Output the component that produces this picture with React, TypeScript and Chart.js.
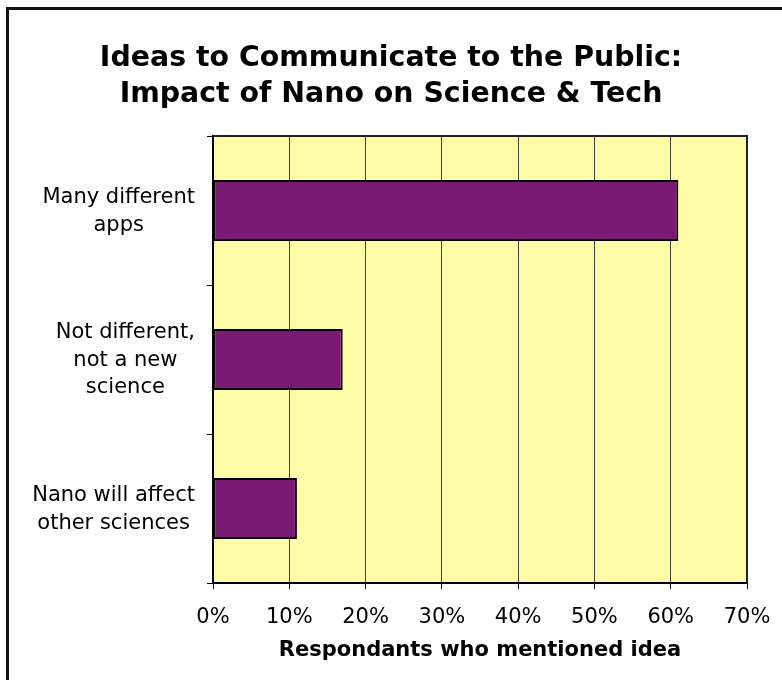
import React, { useEffect, useRef } from "react";
import { Chart, registerables } from "chart.js";

Chart.register(...registerables);

const titleLines = ["Ideas to Communicate to the Public:", "Impact of Nano on Science & Tech"];
const categories = [
  ["Many different", "apps"],
  ["Not different,", "not a new", "science"],
  ["Nano will affect", "other sciences"],
];
const values = [61, 17, 11];
const xTicks = [0, 10, 20, 30, 40, 50, 60, 70];
const xAxisTitle = "Respondants who mentioned idea";

const FONT = '"DejaVu Sans", Verdana, sans-serif';

const plotBgPlugin = {
  id: "plotBg",
  beforeDraw(chart: any) {
    const { ctx, chartArea } = chart;
    ctx.save();
    ctx.fillStyle = "#FFFCA8";
    ctx.fillRect(chartArea.left, chartArea.top, chartArea.right - chartArea.left, chartArea.bottom - chartArea.top);
    ctx.restore();
  },
  afterDraw(chart: any) {
    const { ctx, chartArea } = chart;
    ctx.save();
    ctx.strokeStyle = "#222";
    ctx.lineWidth = 2;
    ctx.beginPath();
    ctx.moveTo(chartArea.left, chartArea.top);
    ctx.lineTo(chartArea.right, chartArea.top);
    ctx.lineTo(chartArea.right, chartArea.bottom);
    ctx.stroke();
    // category labels: each label centred on its own widest line, right-aligned block
    const yScale = chart.scales.y;
    ctx.font = `21px ${FONT}`;
    ctx.fillStyle = "#000";
    ctx.textAlign = "center";
    ctx.textBaseline = "middle";
    const rightEdge = chartArea.left - 18;
    const lh = 27.5;
    categories.forEach((lines, i) => {
      const y = yScale.getPixelForValue(i);
      const maxW = Math.max(...lines.map((l) => ctx.measureText(l).width));
      const cx = rightEdge - maxW / 2;
      lines.forEach((line, j) => {
        ctx.fillText(line, cx, y + (j - (lines.length - 1) / 2) * lh + 1);
      });
    });
    ctx.restore();
  },
};

export default function App() {
  const canvasRef = useRef<HTMLCanvasElement | null>(null);

  useEffect(() => {
    if (!canvasRef.current) return;
    Chart.defaults.font.family = FONT;
    const chart = new Chart(canvasRef.current, {
      type: "bar",
      data: {
        labels: categories.map((c) => c.join(" ")),
        datasets: [
          {
            data: values,
            backgroundColor: "#7B1A75",
            borderColor: "#000000",
            borderWidth: 2,
            borderSkipped: false,
            categoryPercentage: 1,
            barPercentage: 0.41,
          },
        ],
      },
      options: {
        indexAxis: "y",
        animation: false,
        responsive: false,
        layout: { padding: { left: 0, right: 0, top: 0, bottom: 0 } },
        plugins: {
          legend: { display: false },
          tooltip: { enabled: false },
          title: {
            display: true,
            text: titleLines,
            color: "#000",
            font: { family: FONT, size: 28.4, weight: "bold", lineHeight: 1.25 },
            padding: { top: 41, bottom: 24 },
          },
        },
        scales: {
          x: {
            type: "linear",
            min: xTicks[0],
            max: xTicks[xTicks.length - 1],
            afterBuildTicks(scale: any) {
              scale.ticks = xTicks.map((v) => ({ value: v }));
            },
            afterFit(scale: any) {
              scale.height = 97;
              scale.paddingLeft = 0;
              scale.paddingRight = 0;
            },
            ticks: {
              color: "#000",
              font: { family: FONT, size: 21 },
              padding: 16,
              callback: (v: any) => `${v}%`,
            },
            grid: {
              color: "#444",
              lineWidth: 1,
              tickLength: 6,
              tickColor: "#000",
              drawTicks: true,
            },
            border: { display: true, color: "#000", width: 2 },
            title: {
              display: true,
              text: xAxisTitle,
              color: "#000",
              font: { family: FONT, size: 21, weight: "bold", lineHeight: 1.2 },
              padding: { top: 0, bottom: 17 },
            },
          },
          y: {
            type: "category",
            offset: true,
            afterFit(scale: any) {
              scale.width = 213;
            },
            ticks: { display: false },
            grid: {
              display: true,
              offset: true,
              drawOnChartArea: false,
              tickLength: 6,
              color: "#000",
            },
            border: { display: true, color: "#000", width: 2 },
          },
          yRight: {
            type: "linear",
            axis: "y",
            position: "right",
            display: true,
            afterFit(scale: any) {
              scale.width = 35;
            },
            ticks: { display: false },
            grid: { display: false, drawTicks: false },
            border: { display: false },
          },
        },
      },
      plugins: [plotBgPlugin],
    } as any);
    return () => chart.destroy();
  }, []);

  return (
    <div style={{ position: "fixed", left: 0, top: 0, width: 782, height: 680, background: "#fff" }}>
      <div
        style={{
          position: "absolute",
          left: 6,
          top: 7,
          width: 800,
          height: 700,
          borderLeft: "3px solid #111",
          borderTop: "3px solid #111",
        }}
      />
      <canvas ref={canvasRef} width={782} height={680} style={{ position: "absolute", left: 0, top: 0 }} />
    </div>
  );
}
